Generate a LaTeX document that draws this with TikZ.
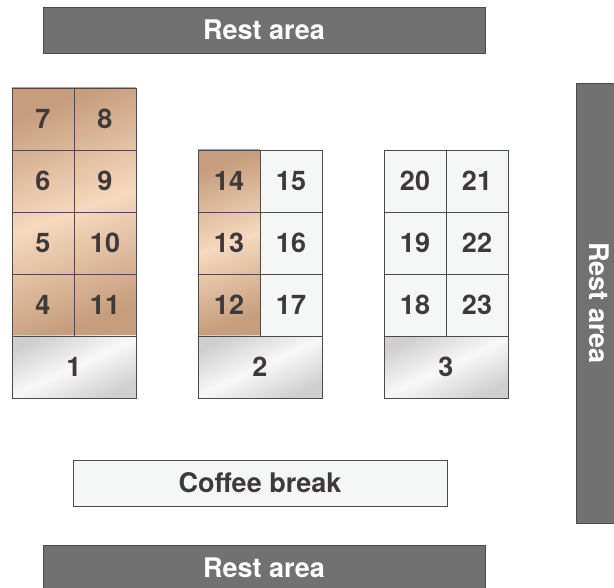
\documentclass[tikz,border=0pt]{standalone}
\usepackage{fontspec}
\setmainfont{TeX Gyre Heros}
\usepackage{xcolor}
\usepackage{tikz}
\usetikzlibrary{positioning,backgrounds}
\definecolor{restgray}{HTML}{717171}
\definecolor{edgegray}{HTML}{4F4949}
\definecolor{tandark}{HTML}{C69E7D}
\definecolor{tanlight}{HTML}{F6D9BF}
\definecolor{paleseat}{HTML}{F5F7F6}
\definecolor{metaldark}{HTML}{CFCFCF}
\definecolor{metallight}{HTML}{F8F8F8}
\definecolor{inkgray}{HTML}{3E3A3A}

\begin{document}
\begin{tikzpicture}[
  x=1pt,y=1pt,
  font=\fontsize{27}{30}\selectfont\bfseries,
  seat/.style={
    draw=edgegray,
    line width=0.9pt,
    minimum width=62pt,
    minimum height=62pt,
    inner sep=0pt,
    outer sep=0pt,
    text=inkgray
  },
  taken/.style={seat},
  free/.style={seat,fill=paleseat},
  desk/.style={seat,minimum width=124pt,
    top color=metaldark,bottom color=metaldark,middle color=metallight,
    shading angle=25},
  rest/.style={
    draw=edgegray,
    fill=restgray,
    line width=0.9pt,
    minimum width=442pt,
    minimum height=46pt,
    inner sep=0pt,
    text=white
  },
  break/.style={rest,fill=paleseat,text=inkgray,minimum width=374pt},
  tanshade/.style={top color=tandark,bottom color=tandark,middle color=tanlight,
    shading angle=20}
]
  \useasboundingbox (0,0) rectangle (614,588);

  % rest areas and coffee
  \node[rest] (resttop) at (264,558) {Rest area};
  \node[rest] (restbottom) at (264,20) {Rest area};
  \node[rest,minimum width=440pt,rotate=-90] (restright) at (599,285) {Rest area};
  \node[break] (coffee) at (260,105) {Coffee break};

  % block 1
  \node[desk] (b1) at (74,221) {1};
  \node[taken,above right=0pt of b1.north west] (s4) {4};
  \node[taken,right=0pt of s4] (s11) {11};
  \node[taken,above=0pt of s4] (s5) {5};
  \node[taken,right=0pt of s5] (s10) {10};
  \node[taken,above=0pt of s5] (s6) {6};
  \node[taken,right=0pt of s6] (s9) {9};
  \node[taken,above=0pt of s6] (s7) {7};
  \node[taken,right=0pt of s7] (s8) {8};

  % block 2
  \node[desk] (b2) at (260,221) {2};
  \node[taken,above right=0pt of b2.north west] (s12) {12};
  \node[free,right=0pt of s12] (s17) {17};
  \node[taken,above=0pt of s12] (s13) {13};
  \node[free,right=0pt of s13] (s16) {16};
  \node[taken,above=0pt of s13] (s14) {14};
  \node[free,right=0pt of s14] (s15) {15};

  % block 3
  \node[desk] (b3) at (446,221) {3};
  \node[free,above right=0pt of b3.north west] (s18) {18};
  \node[free,right=0pt of s18] (s23) {23};
  \node[free,above=0pt of s18] (s19) {19};
  \node[free,right=0pt of s19] (s22) {22};
  \node[free,above=0pt of s19] (s20) {20};
  \node[free,right=0pt of s20] (s21) {21};

  \begin{scope}[on background layer]
    \shade[tanshade] (s7.north west) rectangle (s11.south east);
    \shade[tanshade] (s14.north west) rectangle (s12.south east);
  \end{scope}
\end{tikzpicture}
\end{document}
